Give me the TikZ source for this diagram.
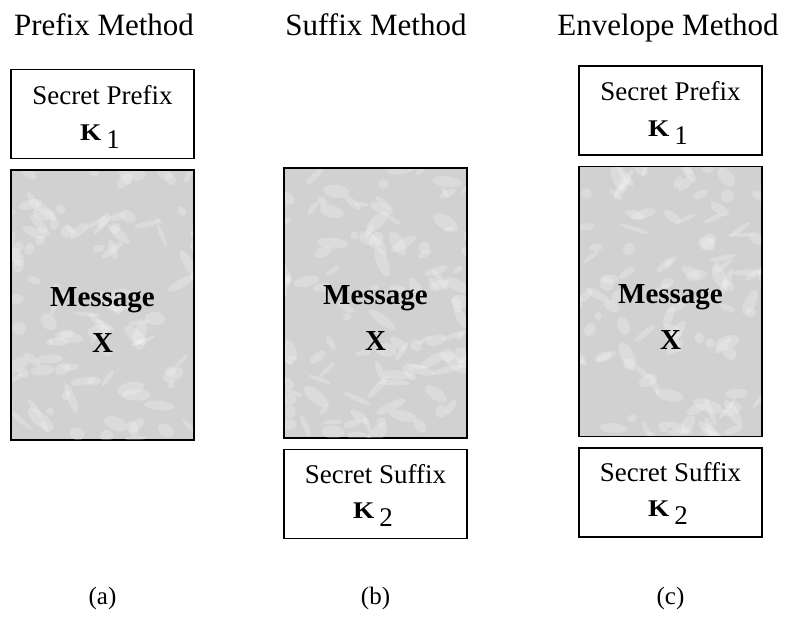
\documentclass[tikz,border=0pt]{standalone}
\usepackage{fontspec}
\setmainfont{Liberation Serif}
\begin{document}
\begin{tikzpicture}[x=1pt,y=-1pt,
  titletxt/.style={font=\fontsize{31}{34}\selectfont, anchor=base, inner sep=0},
  bodytxt/.style={font=\fontsize{27}{30}\selectfont, anchor=base, inner sep=0},
  msgtxt/.style={font=\fontsize{29}{32}\selectfont\bfseries, anchor=base, inner sep=0},
  labtxt/.style={font=\fontsize{25}{28}\selectfont, anchor=base, inner sep=0},
  keybox/.style={draw=black, line width=1.4pt, fill=white, minimum width=183pt, minimum height=89pt, inner sep=0},
  msgbox/.style={draw=black, line width=1.7pt, fill=gray!36, minimum width=183pt, minimum height=270pt, inner sep=0},
  cloud/.style={fill=white, opacity=0.22}]
\useasboundingbox (0,0) rectangle (787,616);
\newcommand{\keyK}[1]{{\fontsize{26}{28}\selectfont\bfseries\scalebox{1.05}[0.92]{K}}\hspace{5pt}\raisebox{-8pt}{\fontsize{27}{28}\selectfont #1}}
\newcommand{\mottle}[3]{%
  \begin{scope}
    \clip (#1-90.5,#2-134) rectangle (#1+90.5,#2+134);
    \pgfmathsetseed{#3}
    \foreach \i in {1,...,110} {
      \pgfmathsetmacro{\px}{#1-95+190*rnd}
      \pgfmathsetmacro{\py}{#2-138+276*rnd}
      \pgfmathsetmacro{\ra}{4+12*rnd}
      \pgfmathsetmacro{\rb}{2+5*rnd}
      \pgfmathsetmacro{\ang}{-70+140*rnd}
      \fill[cloud, rotate around={\ang:(\px,\py)}] (\px,\py) ellipse [x radius=\ra, y radius=\rb];
    }
  \end{scope}}
% titles
\node[titletxt] (ta) at (104,35) {Prefix Method};
\node[titletxt] (tb) at (376,35) {Suffix Method};
\node[titletxt] (tc) at (668,35) {Envelope Method};
% column a
\node[keybox] (pa) at (102.5,114) {};
\node[bodytxt] (pat) at (102.5,104) {Secret Prefix};
\node[bodytxt] (pak) at (100,140) {\keyK{1}};
\node[msgbox] (ma) at (102.5,305) {};
\mottle{102.5}{305}{11}
\node[msgtxt] (mat) at (102.5,306) {Message};
\node[msgtxt] (max) at (102.5,352) {X};
% column b
\node[msgbox] (mb) at (375.5,303) {};
\mottle{375.5}{303}{23}
\node[msgtxt] (mbt) at (375.5,304) {Message};
\node[msgtxt] (mbx) at (375.5,350) {X};
\node[keybox] (sb) at (375.5,494) {};
\node[bodytxt] (sbt) at (375.5,483) {Secret Suffix};
\node[bodytxt] (sbk) at (373,518) {\keyK{2}};
% column c
\node[keybox] (pc) at (670.5,110.5) {};
\node[bodytxt] (pct) at (670.5,100) {Secret Prefix};
\node[bodytxt] (pck) at (668,136) {\keyK{1}};
\node[msgbox] (mc) at (670.5,301.5) {};
\mottle{670.5}{301.5}{37}
\node[msgtxt] (mct) at (670.5,303) {Message};
\node[msgtxt] (mcx) at (670.5,349) {X};
\node[keybox] (sc) at (670.5,492.5) {};
\node[bodytxt] (sct) at (670.5,481) {Secret Suffix};
\node[bodytxt] (sck) at (668,516) {\keyK{2}};
% labels
\node[labtxt] (la) at (102.5,604) {(a)};
\node[labtxt] (lb) at (375.5,604) {(b)};
\node[labtxt] (lc) at (670.5,604) {(c)};
\end{tikzpicture}
\end{document}
